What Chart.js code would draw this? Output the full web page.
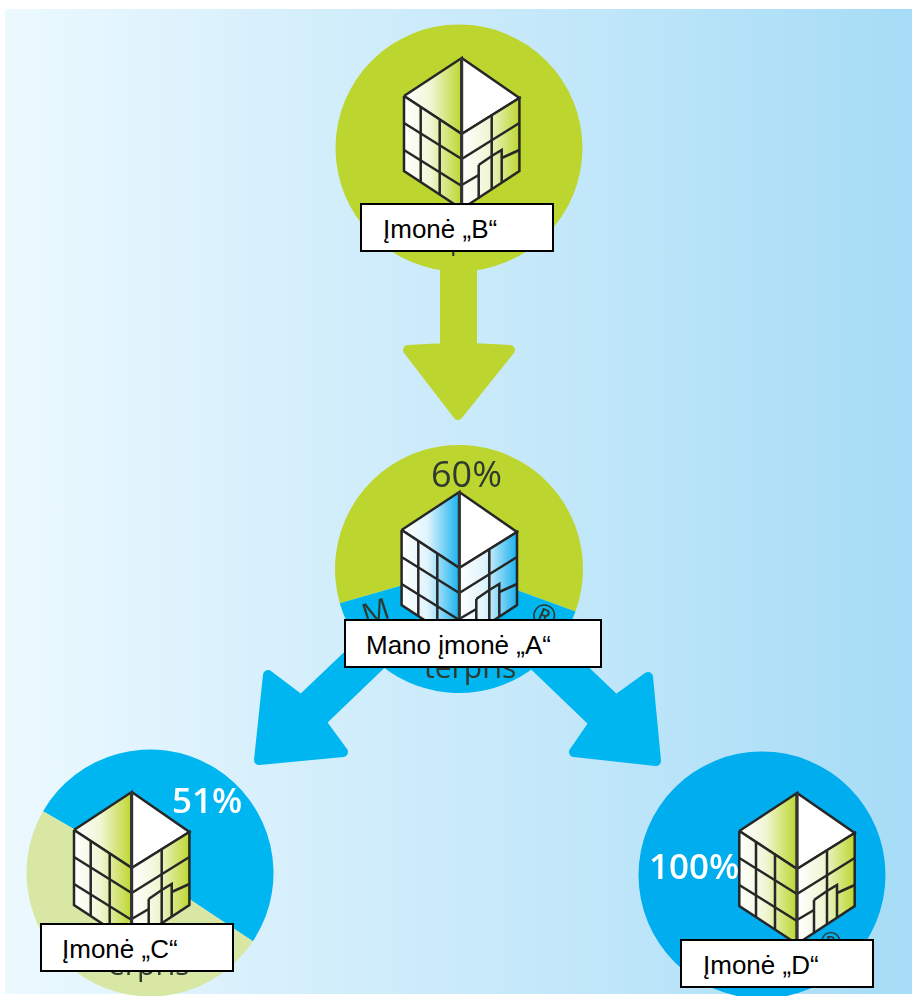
<!DOCTYPE html>
<html>
<head>
<meta charset="utf-8">
<title>Įmonės</title>
<script src="https://cdn.jsdelivr.net/npm/chart.js@4"></script>
<style>
  html, body { margin: 0; padding: 0; background: #fff; overflow: hidden; }
  #stage { position: relative; width: 912px; height: 996px; overflow: hidden; }
  #bg { position: absolute; left: 5px; top: 9px; right: 0; bottom: 2px;
        background: linear-gradient(to right, #ecf9ff 0%, #d3eefb 35%, #c4e8fa 60%, #a6dcf6 100%); }
  canvas { position: absolute; }
  .box { position: absolute; box-sizing: border-box; background: #fff; border: 2px solid #000;
         font: 26px "Liberation Sans", Arial, sans-serif; color: #000; line-height: 49px; white-space: nowrap; }
  .pct { position: absolute; font: 600 35px "Open Sans", sans-serif; line-height: 36px; white-space: nowrap; }
  .frag { position: absolute; font: 30px "Open Sans", sans-serif; line-height: 30px; color: #2e3a30; white-space: nowrap; }
</style>
</head>
<body>
<div id="stage">
  <div id="bg"></div>
  <canvas id="pieB" width="248" height="248"></canvas>
  <canvas id="pieA" width="248" height="248"></canvas>
  <canvas id="pieC" width="248" height="248"></canvas>
  <canvas id="pieD" width="248" height="248"></canvas>
  <canvas id="overlay" width="912" height="996" style="left:0;top:0"></canvas>

  <div class="frag" style="left:362px;top:596px;transform:rotate(-18deg)">M</div>
  <div class="frag" style="left:532px;top:600px;transform:rotate(24deg)">®</div>
  <div class="frag" style="left:424px;top:652px">terpris</div>
  <div class="frag" style="left:385px;top:225px;font-size:26px">Enterprise</div>
  <div class="frag" style="left:108px;top:949px">erpris</div>
  <div class="frag" style="left:820px;top:926px;font-size:26px">®</div>

  <div class="pct" style="left:431px;top:456px;color:#2e3a30;font-weight:400;font-size:36px">60%</div>
  <div class="pct" style="left:172px;top:782px;color:#fff">51%</div>
  <div class="pct" style="left:649px;top:848px;color:#fff">100%</div>

  <div class="box" id="boxB" style="left:360px;top:203px;width:194px;height:49px;padding-left:21px">Įmonė „B“</div>
  <div class="box" id="boxA" style="left:344px;top:619px;width:258px;height:49px;padding-left:20px">Mano įmonė „A“</div>
  <div class="box" id="boxC" style="left:40px;top:923px;width:194px;height:49px;padding-left:20px">Įmonė „C“</div>
  <div class="box" id="boxD" style="left:680px;top:939px;width:194px;height:49px;padding-left:21px">Įmonė „D“</div>
</div>

<script>
// Shares
const shareA = [60, 40];
const shareB = [100];
const shareC = [51, 49];
const shareD = [100];

// Where each pie sits: [centre x, centre y, radius, start angle]
const pieB = [458.5, 148, 123.5, 0];
const pieA = [459, 569, 124, 254];
const pieC = [149.5, 872.5, 123.5, 300];
const pieD = [762, 875, 123.5, 0];

const GREEN = '#bdd62f';
const BLUE = '#00b6f1';
const BLUE_DARK = '#00aeef';
const PALE = '#d8e7a3';

// Arrow outlines, page coordinates (the thick round stroke gives the soft corners)
const arrowDown = [[445, 258], [472, 258], [472, 348], [510, 350], [458, 415], [408, 350], [445, 348]];
const arrowLeft = [[364, 640], [301, 700], [268, 675], [259, 760], [343, 752], [321, 722], [396, 650]];
const arrowRight = [[553, 640], [616, 700], [648, 677], [656, 761], [574, 752], [594, 723], [518, 650]];

// Building drawn relative to its roof apex
const roofLeft = [[-57.7, 38], [0, 0], [0, 76], [-57.7, 38]];
const roofRight = [[0, 0], [57.7, 40], [0, 76], [0, 0]];
const wallLeft = [[-57.7, 38], [0, 76], [0, 151], [-57.7, 113], [-57.7, 38]];
const wallRight = [[0, 76], [57.7, 40], [57.7, 113], [0, 151], [0, 76]];
const windowLines = [
  [[-57.7, 65], [0, 101]],
  [[-57.7, 92], [0, 128]],
  [[-41, 49], [-41, 124]],
  [[-22, 62], [-22, 137]],
  [[0, 101], [57.7, 65]],
  [[0, 127], [17, 117]],
  [[30, 58], [30, 132]],
  [[17, 107], [17, 141]],
  [[17, 107], [30, 98], [40, 92], [40, 124]],
  [[40, 100], [57.7, 92]]
];
const apexB = [461.7, 58];
const apexA = [459.3, 492];
const apexC = [131.7, 792];
const apexD = [797, 793];

function makePie(id, share, spot, colors) {
  const el = document.getElementById(id);
  el.style.left = (spot[0] - 124) + 'px';
  el.style.top = (spot[1] - 124) + 'px';
  return new Chart(el, {
    type: 'pie',
    data: { labels: share.map((_, i) => id + i), datasets: [{ data: share, backgroundColor: colors, borderWidth: 0, radius: spot[2] }] },
    options: {
      responsive: false,
      animation: false,
      rotation: spot[3],
      plugins: { legend: { display: false }, tooltip: { enabled: false } }
    }
  });
}

makePie('pieB', shareB, pieB, [GREEN]);
makePie('pieA', shareA, pieA, [GREEN, BLUE]);
makePie('pieC', shareC, pieC, [BLUE, PALE]);
makePie('pieD', shareD, pieD, [BLUE_DARK]);

const toPoints = (pts, o) => pts.map(p => ({ x: p[0] + (o ? o[0] : 0), y: p[1] + (o ? o[1] : 0) }));

function arrowSet(pts, color) {
  const closed = pts.concat([pts[0], pts[1]]);
  return { data: toPoints(closed), borderColor: color, backgroundColor: color, borderWidth: 10, fill: 'shape', borderJoinStyle: 'round' };
}

// horizontal white-to-tint gradient, placed through the x scale
function shade(from, to, tint, mid) {
  return (c) => {
    const sx = c.chart.scales.x;
    const a = sx ? sx.getPixelForValue(from) : NaN;
    const b = sx ? sx.getPixelForValue(to) : NaN;
    if (!isFinite(a) || !isFinite(b)) return tint;
    const g = c.chart.ctx.createLinearGradient(a, 0, b, 0);
    g.addColorStop(0, '#ffffff');
    g.addColorStop(0.45, mid);
    g.addColorStop(1, tint);
    return g;
  };
}

function buildingSets(apex, tint, mid) {
  const INK = '#262626';
  const facet = (pts, bg) => ({ data: toPoints(pts, apex), borderColor: INK, backgroundColor: bg, borderWidth: 2.5, fill: 'shape' });
  const sets = [
    facet(roofLeft, shade(apex[0] - 57.7, apex[0], tint, mid)),
    facet(roofRight, '#ffffff'),
    facet(wallLeft, shade(apex[0] - 57.7, apex[0], tint, mid)),
    facet(wallRight, shade(apex[0], apex[0] + 57.7, tint, mid))
  ];
  windowLines.forEach(l => sets.push({ data: toPoints(l, apex), borderColor: INK, borderWidth: 2.5, fill: false }));
  sets.push({ data: toPoints([[0, 0], [0, 151]], apex), borderColor: '#333333', borderWidth: 3, fill: false });
  return sets;
}

const overlaySets = [
  arrowSet(arrowDown, GREEN),
  arrowSet(arrowLeft, BLUE),
  arrowSet(arrowRight, BLUE),
  ...buildingSets(apexB, GREEN, '#f1f6d6'),
  ...buildingSets(apexA, '#19b2ee', '#dff3fc'),
  ...buildingSets(apexC, GREEN, '#f1f6d6'),
  ...buildingSets(apexD, GREEN, '#f1f6d6')
];
// Chart.js paints the lowest order last, so later sets go on top
overlaySets.forEach((s, i) => { s.order = overlaySets.length - i; s.tension = 0; s.pointRadius = 0; });

const overlay = new Chart(document.getElementById('overlay'), {
  type: 'line',
  data: { datasets: overlaySets },
  options: {
    responsive: false,
    animation: false,
    // keep the scales 1:1 with the canvas, thick arrow strokes would shrink the area otherwise
    layout: { padding: 0, autoPadding: false },
    scales: {
      x: { type: 'linear', min: 0, max: 912, display: false },
      y: { type: 'linear', min: 0, max: 996, reverse: true, display: false }
    },
    plugins: { legend: { display: false }, tooltip: { enabled: false } }
  }
});
// second pass so the gradients see laid-out scales
overlay.update();
</script>
</body>
</html>
